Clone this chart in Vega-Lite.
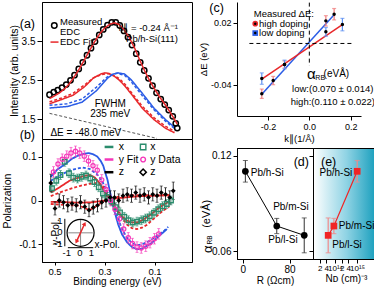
{
"$schema":"https://vega.github.io/schema/vega-lite/v6.json",
"padding":{"left":2,"top":1,"right":0,"bottom":0},
"spacing":195,
"bounds":"flush",
"align":"none",
"config":{
 "font":"Liberation Sans",
 "view":{"stroke":"black","strokeWidth":1},
 "axis":{"grid":false,"domainColor":"black","tickColor":"black","labelColor":"black","titleColor":"black","labelFont":"Liberation Sans","titleFont":"Liberation Sans","labelFontSize":10,"titleFontSize":10.5,"titleFontWeight":"normal","labelPadding":2,"titlePadding":2,"tickSize":4,"labelOverlap":false,"labelSeparation":-1000,"labelFlush":false,"labelBound":false},
 "text":{"font":"Liberation Sans","fontSize":10,"color":"black"},
 "point":{"opacity":1},
 "line":{"strokeWidth":1.5}
},
"datasets":{
 "edc":[{"E":0.52,"I":2.13},{"E":0.503,"I":2.2},{"E":0.487,"I":2.25},{"E":0.47,"I":2.31},{"E":0.453,"I":2.39},{"E":0.436,"I":2.5},{"E":0.42,"I":2.63},{"E":0.403,"I":2.79},{"E":0.387,"I":2.96},{"E":0.37,"I":3.14},{"E":0.354,"I":3.32},{"E":0.338,"I":3.49},{"E":0.321,"I":3.66},{"E":0.305,"I":3.8},{"E":0.288,"I":3.91},{"E":0.271,"I":3.98},{"E":0.255,"I":3.98},{"E":0.239,"I":3.9},{"E":0.222,"I":3.76},{"E":0.206,"I":3.6},{"E":0.19,"I":3.4},{"E":0.173,"I":3.18},{"E":0.157,"I":2.96},{"E":0.141,"I":2.75},{"E":0.124,"I":2.55},{"E":0.108,"I":2.36},{"E":0.092,"I":2.18},{"E":0.075,"I":2.02},{"E":0.059,"I":1.88},{"E":0.043,"I":1.74},{"E":0.027,"I":1.58},{"E":0.015,"I":1.4},{"E":0.009,"I":1.28}],
 "edcfit":[{"E":0.52,"I":2.03},{"E":0.5,"I":2.1},{"E":0.48,"I":2.18},{"E":0.46,"I":2.28},{"E":0.44,"I":2.42},{"E":0.42,"I":2.6},{"E":0.4,"I":2.8},{"E":0.38,"I":3.03},{"E":0.36,"I":3.26},{"E":0.34,"I":3.48},{"E":0.32,"I":3.68},{"E":0.3,"I":3.83},{"E":0.28,"I":3.93},{"E":0.26,"I":3.97},{"E":0.24,"I":3.92},{"E":0.22,"I":3.78},{"E":0.2,"I":3.58},{"E":0.18,"I":3.33},{"E":0.16,"I":3.03},{"E":0.14,"I":2.75},{"E":0.12,"I":2.5},{"E":0.1,"I":2.28},{"E":0.08,"I":2.08},{"E":0.06,"I":1.9},{"E":0.04,"I":1.71},{"E":0.02,"I":1.5},{"E":0.009,"I":1.38}],
 "comp":[
  {"E":0.52,"I":1.9,"c":"r","kind":"s"},{"E":0.506,"I":1.93,"c":"r","kind":"s"},{"E":0.471,"I":2.01,"c":"r","kind":"s"},{"E":0.425,"I":2.12,"c":"r","kind":"s"},{"E":0.379,"I":2.34,"c":"r","kind":"s"},{"E":0.344,"I":2.56,"c":"r","kind":"s"},{"E":0.315,"I":2.66,"c":"r","kind":"s"},{"E":0.298,"I":2.69,"c":"r","kind":"s"},{"E":0.28,"I":2.67,"c":"r","kind":"s"},{"E":0.26,"I":2.6,"c":"r","kind":"s"},{"E":0.24,"I":2.5,"c":"r","kind":"s"},{"E":0.217,"I":2.34,"c":"r","kind":"s"},{"E":0.194,"I":2.16,"c":"r","kind":"s"},{"E":0.148,"I":1.78,"c":"r","kind":"s"},{"E":0.101,"I":1.49,"c":"r","kind":"s"},{"E":0.055,"I":1.27,"c":"r","kind":"s"},{"E":0.02,"I":1.16,"c":"r","kind":"s"},
  {"E":0.52,"I":1.95,"c":"r","kind":"d"},{"E":0.47,"I":2.05,"c":"r","kind":"d"},{"E":0.425,"I":2.17,"c":"r","kind":"d"},{"E":0.38,"I":2.38,"c":"r","kind":"d"},{"E":0.345,"I":2.56,"c":"r","kind":"d"},{"E":0.31,"I":2.65,"c":"r","kind":"d"},{"E":0.285,"I":2.67,"c":"r","kind":"d"},{"E":0.26,"I":2.62,"c":"r","kind":"d"},{"E":0.24,"I":2.54,"c":"r","kind":"d"},{"E":0.217,"I":2.39,"c":"r","kind":"d"},{"E":0.194,"I":2.2,"c":"r","kind":"d"},{"E":0.148,"I":1.83,"c":"r","kind":"d"},{"E":0.101,"I":1.54,"c":"r","kind":"d"},{"E":0.055,"I":1.32,"c":"r","kind":"d"},{"E":0.02,"I":1.2,"c":"r","kind":"d"},
  {"E":0.52,"I":1.79,"c":"b","kind":"s"},{"E":0.506,"I":1.8,"c":"b","kind":"s"},{"E":0.448,"I":1.83,"c":"b","kind":"s"},{"E":0.39,"I":1.94,"c":"b","kind":"s"},{"E":0.333,"I":2.23,"c":"b","kind":"s"},{"E":0.287,"I":2.56,"c":"b","kind":"s"},{"E":0.265,"I":2.66,"c":"b","kind":"s"},{"E":0.246,"I":2.69,"c":"b","kind":"s"},{"E":0.22,"I":2.66,"c":"b","kind":"s"},{"E":0.194,"I":2.52,"c":"b","kind":"s"},{"E":0.148,"I":2.16,"c":"b","kind":"s"},{"E":0.101,"I":1.78,"c":"b","kind":"s"},{"E":0.055,"I":1.49,"c":"b","kind":"s"},{"E":0.02,"I":1.3,"c":"b","kind":"s"},
  {"E":0.52,"I":1.86,"c":"b","kind":"d"},{"E":0.45,"I":1.9,"c":"b","kind":"d"},{"E":0.39,"I":2.02,"c":"b","kind":"d"},{"E":0.333,"I":2.32,"c":"b","kind":"d"},{"E":0.29,"I":2.58,"c":"b","kind":"d"},{"E":0.265,"I":2.66,"c":"b","kind":"d"},{"E":0.25,"I":2.68,"c":"b","kind":"d"},{"E":0.22,"I":2.63,"c":"b","kind":"d"},{"E":0.194,"I":2.47,"c":"b","kind":"d"},{"E":0.148,"I":2.1,"c":"b","kind":"d"},{"E":0.101,"I":1.74,"c":"b","kind":"d"},{"E":0.055,"I":1.45,"c":"b","kind":"d"},{"E":0.02,"I":1.27,"c":"b","kind":"d"}
 ],
 "bg":[{"E":0.52,"I":1.655},{"E":0.09,"I":1.015}],
 "pfit":[
  {"E":0.515,"P":0.054,"c":"y","kind":"fit"},{"E":0.49,"P":0.07,"c":"y","kind":"fit"},{"E":0.457,"P":0.083,"c":"y","kind":"fit"},{"E":0.43,"P":0.095,"c":"y","kind":"fit"},{"E":0.41,"P":0.101,"c":"y","kind":"fit"},{"E":0.385,"P":0.106,"c":"y","kind":"fit"},{"E":0.364,"P":0.108,"c":"y","kind":"fit"},{"E":0.345,"P":0.105,"c":"y","kind":"fit"},{"E":0.329,"P":0.1,"c":"y","kind":"fit"},{"E":0.315,"P":0.09,"c":"y","kind":"fit"},{"E":0.305,"P":0.079,"c":"y","kind":"fit"},{"E":0.295,"P":0.06,"c":"y","kind":"fit"},{"E":0.288,"P":0.047,"c":"y","kind":"fit"},{"E":0.28,"P":0.025,"c":"y","kind":"fit"},{"E":0.27,"P":0.0,"c":"y","kind":"fit"},{"E":0.26,"P":-0.025,"c":"y","kind":"fit"},{"E":0.245,"P":-0.055,"c":"y","kind":"fit"},{"E":0.23,"P":-0.077,"c":"y","kind":"fit"},{"E":0.21,"P":-0.095,"c":"y","kind":"fit"},{"E":0.19,"P":-0.106,"c":"y","kind":"fit"},{"E":0.17,"P":-0.111,"c":"y","kind":"fit"},{"E":0.15,"P":-0.11,"c":"y","kind":"fit"},{"E":0.13,"P":-0.103,"c":"y","kind":"fit"},{"E":0.111,"P":-0.097,"c":"y","kind":"fit"},{"E":0.09,"P":-0.085,"c":"y","kind":"fit"},{"E":0.07,"P":-0.075,"c":"y","kind":"fit"},{"E":0.05,"P":-0.065,"c":"y","kind":"fit"},
  {"E":0.515,"P":0.045,"c":"y","kind":"alt"},{"E":0.47,"P":0.06,"c":"y","kind":"alt"},{"E":0.43,"P":0.07,"c":"y","kind":"alt"},{"E":0.39,"P":0.075,"c":"y","kind":"alt"},{"E":0.36,"P":0.072,"c":"y","kind":"alt"},{"E":0.33,"P":0.06,"c":"y","kind":"alt"},{"E":0.31,"P":0.045,"c":"y","kind":"alt"},{"E":0.29,"P":0.02,"c":"y","kind":"alt"},{"E":0.27,"P":-0.005,"c":"y","kind":"alt"},{"E":0.25,"P":-0.035,"c":"y","kind":"alt"},{"E":0.23,"P":-0.065,"c":"y","kind":"alt"},{"E":0.21,"P":-0.085,"c":"y","kind":"alt"},{"E":0.19,"P":-0.097,"c":"y","kind":"alt"},{"E":0.17,"P":-0.102,"c":"y","kind":"alt"},{"E":0.15,"P":-0.1,"c":"y","kind":"alt"},{"E":0.12,"P":-0.092,"c":"y","kind":"alt"},{"E":0.09,"P":-0.08,"c":"y","kind":"alt"},{"E":0.06,"P":-0.068,"c":"y","kind":"alt"},{"E":0.045,"P":-0.06,"c":"y","kind":"alt"},
  {"E":0.515,"P":0.018,"c":"x","kind":"fit"},{"E":0.48,"P":0.03,"c":"x","kind":"fit"},{"E":0.44,"P":0.045,"c":"x","kind":"fit"},{"E":0.41,"P":0.051,"c":"x","kind":"fit"},{"E":0.38,"P":0.056,"c":"x","kind":"fit"},{"E":0.36,"P":0.058,"c":"x","kind":"fit"},{"E":0.34,"P":0.053,"c":"x","kind":"fit"},{"E":0.32,"P":0.04,"c":"x","kind":"fit"},{"E":0.3,"P":0.02,"c":"x","kind":"fit"},{"E":0.28,"P":0.003,"c":"x","kind":"fit"},{"E":0.27,"P":-0.005,"c":"x","kind":"fit"},{"E":0.25,"P":-0.022,"c":"x","kind":"fit"},{"E":0.23,"P":-0.036,"c":"x","kind":"fit"},{"E":0.21,"P":-0.046,"c":"x","kind":"fit"},{"E":0.19,"P":-0.05,"c":"x","kind":"fit"},{"E":0.17,"P":-0.05,"c":"x","kind":"fit"},{"E":0.15,"P":-0.045,"c":"x","kind":"fit"},{"E":0.13,"P":-0.038,"c":"x","kind":"fit"},{"E":0.11,"P":-0.03,"c":"x","kind":"fit"},{"E":0.09,"P":-0.02,"c":"x","kind":"fit"},{"E":0.07,"P":-0.012,"c":"x","kind":"fit"},{"E":0.05,"P":-0.005,"c":"x","kind":"fit"},{"E":0.04,"P":-0.002,"c":"x","kind":"fit"},
  {"E":0.515,"P":0.01,"c":"x","kind":"alt"},{"E":0.48,"P":0.018,"c":"x","kind":"alt"},{"E":0.44,"P":0.026,"c":"x","kind":"alt"},{"E":0.4,"P":0.033,"c":"x","kind":"alt"},{"E":0.36,"P":0.038,"c":"x","kind":"alt"},{"E":0.33,"P":0.04,"c":"x","kind":"alt"},{"E":0.31,"P":0.035,"c":"x","kind":"alt"},{"E":0.29,"P":0.02,"c":"x","kind":"alt"},{"E":0.27,"P":0.0,"c":"x","kind":"alt"},{"E":0.25,"P":-0.02,"c":"x","kind":"alt"},{"E":0.23,"P":-0.04,"c":"x","kind":"alt"},{"E":0.21,"P":-0.055,"c":"x","kind":"alt"},{"E":0.19,"P":-0.063,"c":"x","kind":"alt"},{"E":0.17,"P":-0.065,"c":"x","kind":"alt"},{"E":0.15,"P":-0.062,"c":"x","kind":"alt"},{"E":0.13,"P":-0.055,"c":"x","kind":"alt"},{"E":0.11,"P":-0.045,"c":"x","kind":"alt"},{"E":0.09,"P":-0.035,"c":"x","kind":"alt"},{"E":0.07,"P":-0.025,"c":"x","kind":"alt"},{"E":0.05,"P":-0.017,"c":"x","kind":"alt"},{"E":0.04,"P":-0.013,"c":"x","kind":"alt"},
  {"E":0.515,"P":-0.003,"c":"z","kind":"fit"},{"E":0.45,"P":-0.004,"c":"z","kind":"fit"},{"E":0.4,"P":-0.005,"c":"z","kind":"fit"},{"E":0.35,"P":-0.004,"c":"z","kind":"fit"},{"E":0.3,"P":0.0,"c":"z","kind":"fit"},{"E":0.25,"P":0.005,"c":"z","kind":"fit"},{"E":0.2,"P":0.008,"c":"z","kind":"fit"},{"E":0.15,"P":0.01,"c":"z","kind":"fit"},{"E":0.1,"P":0.011,"c":"z","kind":"fit"},{"E":0.04,"P":0.012,"c":"z","kind":"fit"},
  {"E":0.515,"P":-0.008,"c":"z","kind":"alt"},{"E":0.4,"P":-0.012,"c":"z","kind":"alt"},{"E":0.36,"P":-0.022,"c":"z","kind":"alt"},{"E":0.33,"P":-0.012,"c":"z","kind":"alt"},{"E":0.3,"P":0.0,"c":"z","kind":"alt"},{"E":0.25,"P":0.008,"c":"z","kind":"alt"},{"E":0.2,"P":0.012,"c":"z","kind":"alt"},{"E":0.1,"P":0.012,"c":"z","kind":"alt"},{"E":0.04,"P":0.012,"c":"z","kind":"alt"}
 ],
 "pdata":[
  {"E":0.504,"P":0.065,"err":0.012,"c":"y"},{"E":0.486,"P":0.083,"err":0.012,"c":"y"},{"E":0.469,"P":0.094,"err":0.012,"c":"y"},{"E":0.451,"P":0.101,"err":0.012,"c":"y"},{"E":0.434,"P":0.108,"err":0.013,"c":"y"},{"E":0.416,"P":0.112,"err":0.012,"c":"y"},{"E":0.399,"P":0.108,"err":0.012,"c":"y"},{"E":0.381,"P":0.101,"err":0.012,"c":"y"},{"E":0.364,"P":0.09,"err":0.012,"c":"y"},{"E":0.346,"P":0.079,"err":0.012,"c":"y"},{"E":0.329,"P":0.069,"err":0.012,"c":"y"},{"E":0.311,"P":0.047,"err":0.012,"c":"y"},{"E":0.294,"P":0.025,"err":0.012,"c":"y"},{"E":0.276,"P":0.0,"err":0.012,"c":"y"},{"E":0.258,"P":-0.02,"err":0.012,"c":"y"},{"E":0.24,"P":-0.042,"err":0.012,"c":"y"},{"E":0.223,"P":-0.065,"err":0.012,"c":"y"},{"E":0.205,"P":-0.085,"err":0.012,"c":"y"},{"E":0.188,"P":-0.098,"err":0.012,"c":"y"},{"E":0.17,"P":-0.106,"err":0.012,"c":"y"},{"E":0.153,"P":-0.108,"err":0.012,"c":"y"},{"E":0.135,"P":-0.104,"err":0.012,"c":"y"},{"E":0.118,"P":-0.096,"err":0.012,"c":"y"},{"E":0.1,"P":-0.087,"err":0.012,"c":"y"},{"E":0.083,"P":-0.076,"err":0.012,"c":"y"},
  {"E":0.51,"P":0.028,"err":0.01,"c":"x"},{"E":0.493,"P":0.045,"err":0.01,"c":"x"},{"E":0.476,"P":0.058,"err":0.01,"c":"x"},{"E":0.459,"P":0.088,"err":0.01,"c":"x"},{"E":0.442,"P":0.062,"err":0.01,"c":"x"},{"E":0.425,"P":0.052,"err":0.01,"c":"x"},{"E":0.408,"P":0.05,"err":0.01,"c":"x"},{"E":0.391,"P":0.054,"err":0.01,"c":"x"},{"E":0.374,"P":0.057,"err":0.01,"c":"x"},{"E":0.357,"P":0.05,"err":0.01,"c":"x"},{"E":0.34,"P":0.042,"err":0.01,"c":"x"},{"E":0.323,"P":0.03,"err":0.01,"c":"x"},{"E":0.306,"P":0.016,"err":0.01,"c":"x"},{"E":0.289,"P":0.008,"err":0.01,"c":"x"},{"E":0.272,"P":-0.002,"err":0.01,"c":"x"},{"E":0.255,"P":-0.015,"err":0.01,"c":"x"},{"E":0.238,"P":-0.027,"err":0.01,"c":"x"},{"E":0.221,"P":-0.037,"err":0.01,"c":"x"},{"E":0.204,"P":-0.045,"err":0.01,"c":"x"},{"E":0.187,"P":-0.05,"err":0.01,"c":"x"},{"E":0.17,"P":-0.048,"err":0.01,"c":"x"},{"E":0.153,"P":-0.045,"err":0.01,"c":"x"},{"E":0.136,"P":-0.041,"err":0.01,"c":"x"},{"E":0.119,"P":-0.036,"err":0.01,"c":"x"},{"E":0.102,"P":-0.028,"err":0.01,"c":"x"},{"E":0.085,"P":-0.02,"err":0.01,"c":"x"},{"E":0.068,"P":-0.013,"err":0.01,"c":"x"},{"E":0.051,"P":-0.008,"err":0.01,"c":"x"},{"E":0.034,"P":0.0,"err":0.01,"c":"x"},
  {"E":0.515,"P":0.04,"err":0.02,"c":"z"},{"E":0.498,"P":-0.018,"err":0.015,"c":"z"},{"E":0.481,"P":0.0,"err":0.015,"c":"z"},{"E":0.464,"P":-0.004,"err":0.015,"c":"z"},{"E":0.447,"P":-0.011,"err":0.015,"c":"z"},{"E":0.43,"P":-0.007,"err":0.015,"c":"z"},{"E":0.413,"P":-0.011,"err":0.015,"c":"z"},{"E":0.396,"P":-0.004,"err":0.015,"c":"z"},{"E":0.379,"P":-0.014,"err":0.015,"c":"z"},{"E":0.362,"P":-0.022,"err":0.015,"c":"z"},{"E":0.345,"P":-0.016,"err":0.015,"c":"z"},{"E":0.328,"P":-0.011,"err":0.015,"c":"z"},{"E":0.311,"P":-0.004,"err":0.015,"c":"z"},{"E":0.294,"P":0.0,"err":0.015,"c":"z"},{"E":0.277,"P":0.007,"err":0.015,"c":"z"},{"E":0.26,"P":0.007,"err":0.015,"c":"z"},{"E":0.243,"P":0.0,"err":0.015,"c":"z"},{"E":0.226,"P":0.011,"err":0.015,"c":"z"},{"E":0.209,"P":0.014,"err":0.015,"c":"z"},{"E":0.192,"P":0.011,"err":0.015,"c":"z"},{"E":0.175,"P":0.018,"err":0.015,"c":"z"},{"E":0.158,"P":0.011,"err":0.015,"c":"z"},{"E":0.141,"P":0.014,"err":0.015,"c":"z"},{"E":0.124,"P":0.007,"err":0.015,"c":"z"},{"E":0.107,"P":0.014,"err":0.015,"c":"z"},{"E":0.09,"P":0.011,"err":0.015,"c":"z"},{"E":0.073,"P":0.018,"err":0.015,"c":"z"},{"E":0.056,"P":0.014,"err":0.015,"c":"z"},{"E":0.039,"P":0.007,"err":0.015,"c":"z"},{"E":0.025,"P":0.022,"err":0.02,"c":"z"}
 ],
 "cfit":[{"k":-0.23,"dE":-0.049,"doping":"high"},{"k":0.12,"dE":0.0277,"doping":"high"},{"k":-0.23,"dE":-0.0345,"doping":"low"},{"k":0.16,"dE":0.0182,"doping":"low"}],
 "cdata":[{"k":-0.23,"dE":-0.0485,"err":0.0045,"doping":"high"},{"k":-0.175,"dE":-0.0358,"err":0.004,"doping":"high"},{"k":-0.12,"dE":-0.0203,"err":0.0035,"doping":"high"},{"k":0.08,"dE":0.0218,"err":0.005,"doping":"high"},{"k":0.12,"dE":0.0282,"err":0.0055,"doping":"high"},{"k":-0.23,"dE":-0.0339,"err":0.0055,"doping":"low"},{"k":-0.12,"dE":-0.0203,"err":0.0042,"doping":"low"},{"k":0.08,"dE":0.0112,"err":0.0042,"doping":"low"},{"k":0.16,"dE":0.0182,"err":0.006,"doping":"low"}],
 "ddata":[{"R":4.3,"alpha":0.1103,"err":0.0068,"sample":"Pb/h-Si"},{"R":58,"alpha":0.0758,"err":0.0048,"sample":"Pb/m-Si"},{"R":105,"alpha":0.0699,"err":0.011,"sample":"Pb/l-Si"}],
 "edata":[{"N":4.9e13,"alpha":0.0699,"err":0.011,"sample":"Pb/l-Si"},{"N":8.9e13,"alpha":0.0758,"err":0.0048,"sample":"Pb/m-Si"},{"N":1.02e15,"alpha":0.1103,"err":0.0068,"sample":"Pb/h-Si"}]
},
"hconcat":[
 {"vconcat":[
  {"width":150,"height":137,
   "layer":[
    {"data":{"name":"comp"},"mark":{"type":"line","strokeWidth":1.5},
     "encoding":{
      "x":{"field":"E","type":"quantitative","scale":{"domain":[-0.005,0.52],"reverse":true},"axis":{"title":null,"labels":false,"ticks":false,"domain":false}},
      "y":{"field":"I","type":"quantitative","scale":{"domain":[1.05,4.1]},"axis":{"title":"Intensity (arb. units)","values":[1.5,2,2.5,3,3.5],"format":".1f","tickSize":5,"labelOverlap":false,"labelSeparation":-1000,"titlePadding":2}},
      "color":{"field":"c","type":"nominal","scale":{"domain":["r","b"],"range":["#e8282b","#2b5ce6"]},"legend":null},
      "strokeDash":{"field":"kind","type":"nominal","scale":{"domain":["s","d"],"range":[[1,0],[3,2]]},"legend":null}}},
    {"data":{"name":"bg"},"mark":{"type":"line","clip":true,"color":"#555555","strokeWidth":1,"strokeDash":[3,2]},
     "encoding":{"x":{"field":"E","type":"quantitative"},"y":{"field":"I","type":"quantitative"}}},
    {"data":{"name":"edc"},"mark":{"type":"point","shape":"circle","filled":false,"color":"black","strokeWidth":1.5,"size":28,"opacity":1},
     "encoding":{"x":{"field":"E","type":"quantitative"},"y":{"field":"I","type":"quantitative"}}},
    {"data":{"name":"edcfit"},"mark":{"type":"line","color":"#e8282b","strokeWidth":1.5},
     "encoding":{"x":{"field":"E","type":"quantitative"},"y":{"field":"I","type":"quantitative"}}},
    {"data":{"values":[{}]},"mark":{"type":"text","text":"(a)","align":"left","baseline":"middle","fontSize":12.5},"encoding":{"x":{"datum":0.639},"y":{"datum":3.944}}},
    {"data":{"values":[{}]},"mark":{"type":"point","shape":"circle","filled":false,"color":"black","strokeWidth":1.5,"size":30,"opacity":1},"encoding":{"x":{"datum":0.5008},"y":{"datum":3.9}}},
    {"data":{"values":[{}]},"mark":{"type":"text","text":"Measured","align":"left","baseline":"middle","fontSize":9.5},"encoding":{"x":{"datum":0.478},"y":{"datum":3.98}}},
    {"data":{"values":[{}]},"mark":{"type":"text","text":"EDC","align":"left","baseline":"middle","fontSize":9.5},"encoding":{"x":{"datum":0.478},"y":{"datum":3.74}}},
    {"data":{"values":[{}]},"mark":{"type":"rule","color":"#e8282b","strokeWidth":1.5},"encoding":{"x":{"datum":0.516},"x2":{"datum":0.484},"y":{"datum":3.476}}},
    {"data":{"values":[{}]},"mark":{"type":"text","text":"EDC Fit","align":"left","baseline":"middle","fontSize":9.5},"encoding":{"x":{"datum":0.478},"y":{"datum":3.476}}},
    {"data":{"values":[{}]},"mark":{"type":"text","text":"k∥ = -0.24 Å⁻¹","align":"right","baseline":"middle","fontSize":9.5},"encoding":{"x":{"datum":0.006},"y":{"datum":3.848}}},
    {"data":{"values":[{}]},"mark":{"type":"text","text":"Pb/h-Si(111)","align":"right","baseline":"middle","fontSize":9.5},"encoding":{"x":{"datum":0.006},"y":{"datum":3.565}}},
    {"data":{"values":[{}]},"mark":{"type":"text","text":"FWHM","align":"center","baseline":"middle"},"encoding":{"x":{"datum":0.277},"y":{"datum":1.895}}},
    {"data":{"values":[{}]},"mark":{"type":"text","text":"235 meV","align":"center","baseline":"middle"},"encoding":{"x":{"datum":0.277},"y":{"datum":1.635}}},
    {"data":{"values":[{}]},"mark":{"type":"text","text":"ΔE = -48.0 meV","align":"left","baseline":"middle"},"encoding":{"x":{"datum":0.5165},"y":{"datum":1.16}}},
    {"data":{"values":[{}]},"mark":{"type":"text","text":"(b)","align":"left","baseline":"middle","fontSize":12.5},"encoding":{"x":{"datum":0.639},"y":{"datum":1.093}}}
   ]},
  {"width":150,"height":123,
   "layer":[
    {"data":{"name":"pfit"},"mark":{"type":"line","strokeWidth":1.8},
     "encoding":{
      "x":{"field":"E","type":"quantitative","scale":{"domain":[-0.005,0.52],"reverse":true},"axis":{"title":"Binding energy (eV)","values":[0.1,0.2,0.3,0.4,0.5],"format":".1f","tickSize":3,"labelPadding":1,"titlePadding":1,"labelFontSize":9.5,"titleFontSize":10,"labelOverlap":false,"labelSeparation":-1000}},
      "y":{"field":"P","type":"quantitative","scale":{"domain":[-0.13,0.137]},"axis":{"title":"Polarization","values":[-0.1,0,0.1],"labelExpr":"abs(datum.value)<0.001 ? '0' : replace(format(datum.value,'.1f'),'−','-')","labelOverlap":false,"labelSeparation":-1000,"titlePadding":6}},
      "color":{"field":"c","type":"nominal","scale":{"domain":["x","y","z"],"range":["#2a8c6c","#f536b9","#000000"]},"legend":null},
      "strokeDash":{"field":"kind","type":"nominal","scale":{"domain":["fit","alt"],"range":[[1,0],[1.5,2]]},"legend":null}}},
    {"data":{"name":"pdata"},"transform":[{"filter":"datum.c == 'x'"}],"mark":{"type":"errorbar","color":"#2a8c6c","thickness":0.8,"ticks":{"size":3}},
     "encoding":{"x":{"field":"E","type":"quantitative"},"y":{"field":"P","type":"quantitative","title":"Polarization"},"yError":{"field":"err"}}},
    {"data":{"name":"pdata"},"transform":[{"filter":"datum.c == 'y'"}],"mark":{"type":"errorbar","color":"#f536b9","thickness":0.8,"ticks":{"size":3}},
     "encoding":{"x":{"field":"E","type":"quantitative"},"y":{"field":"P","type":"quantitative","title":"Polarization"},"yError":{"field":"err"}}},
    {"data":{"name":"pdata"},"transform":[{"filter":"datum.c == 'z'"}],"mark":{"type":"errorbar","color":"#000000","thickness":0.8,"ticks":{"size":3}},
     "encoding":{"x":{"field":"E","type":"quantitative"},"y":{"field":"P","type":"quantitative","title":"Polarization"},"yError":{"field":"err"}}},
    {"data":{"name":"pdata"},"transform":[{"filter":"datum.c == 'x'"}],"mark":{"type":"point","shape":"square","filled":false,"color":"#2a8c6c","strokeWidth":1.4,"size":20,"opacity":1},
     "encoding":{"x":{"field":"E","type":"quantitative"},"y":{"field":"P","type":"quantitative"}}},
    {"data":{"name":"pdata"},"transform":[{"filter":"datum.c == 'y'"}],"mark":{"type":"point","shape":"circle","filled":false,"color":"#f536b9","strokeWidth":1.2,"size":18,"opacity":1},
     "encoding":{"x":{"field":"E","type":"quantitative"},"y":{"field":"P","type":"quantitative"}}},
    {"data":{"name":"pdata"},"transform":[{"filter":"datum.c == 'z'"}],"mark":{"type":"point","shape":"diamond","filled":true,"color":"#000000","size":24,"opacity":1},
     "encoding":{"x":{"field":"E","type":"quantitative"},"y":{"field":"P","type":"quantitative"}}},
    {"data":{"values":[{}]},"mark":{"type":"rule","color":"#2a8c6c","strokeWidth":2.5},"encoding":{"x":{"datum":0.2995},"x2":{"datum":0.2645},"y":{"datum":0.1219}}},
    {"data":{"values":[{}]},"mark":{"type":"rule","color":"#f536b9","strokeWidth":2.5},"encoding":{"x":{"datum":0.2995},"x2":{"datum":0.2645},"y":{"datum":0.0933}}},
    {"data":{"values":[{}]},"mark":{"type":"rule","color":"#000000","strokeWidth":2.5},"encoding":{"x":{"datum":0.2995},"x2":{"datum":0.2645},"y":{"datum":0.0644}}},
    {"data":{"values":[{}]},"mark":{"type":"text","text":"x","align":"left","baseline":"middle","fontSize":10.5},"encoding":{"x":{"datum":0.2435},"y":{"datum":0.1219}}},
    {"data":{"values":[{}]},"mark":{"type":"text","text":"y Fit","align":"left","baseline":"middle","fontSize":10.5},"encoding":{"x":{"datum":0.2435},"y":{"datum":0.0933}}},
    {"data":{"values":[{}]},"mark":{"type":"text","text":"z","align":"left","baseline":"middle","fontSize":10.5},"encoding":{"x":{"datum":0.2435},"y":{"datum":0.0644}}},
    {"data":{"values":[{}]},"mark":{"type":"point","shape":"square","filled":false,"color":"#2a8c6c","strokeWidth":1.4,"size":30,"opacity":1},"encoding":{"x":{"datum":0.1455},"y":{"datum":0.1219}}},
    {"data":{"values":[{}]},"mark":{"type":"point","shape":"circle","filled":false,"color":"#f536b9","strokeWidth":1.4,"size":22,"opacity":1},"encoding":{"x":{"datum":0.1455},"y":{"datum":0.0933}}},
    {"data":{"values":[{}]},"mark":{"type":"point","shape":"diamond","filled":false,"color":"#000000","strokeWidth":1.5,"size":40,"opacity":1},"encoding":{"x":{"datum":0.1455},"y":{"datum":0.0644}}},
    {"data":{"values":[{}]},"mark":{"type":"text","text":"x","align":"left","baseline":"middle","fontSize":10.5},"encoding":{"x":{"datum":0.1175},"y":{"datum":0.1219}}},
    {"data":{"values":[{}]},"mark":{"type":"text","text":"y Data","align":"left","baseline":"middle","fontSize":10.5},"encoding":{"x":{"datum":0.1175},"y":{"datum":0.0933}}},
    {"data":{"values":[{}]},"mark":{"type":"text","text":"z","align":"left","baseline":"middle","fontSize":10.5},"encoding":{"x":{"datum":0.1175},"y":{"datum":0.0644}}},
    {"data":{"values":[{}]},"mark":{"type":"rule","color":"#888888","strokeWidth":1},"encoding":{"x":{"datum":0.4447},"x2":{"datum":0.3467},"y":{"datum":-0.0736}}},
    {"data":{"values":[{}]},"mark":{"type":"rule","color":"#888888","strokeWidth":1},"encoding":{"x":{"datum":0.3957},"y":{"datum":-0.0439},"y2":{"datum":-0.1031}}},
    {"data":{"values":[{}]},"mark":{"type":"point","shape":"circle","filled":false,"color":"black","strokeWidth":1.2,"size":729,"opacity":1},"encoding":{"x":{"datum":0.3957},"y":{"datum":-0.0736}}},
    {"data":{"values":[{}]},"mark":{"type":"rule","color":"black","strokeWidth":1},"encoding":{"x":{"datum":0.4587},"y":{"datum":-0.0417},"y2":{"datum":-0.1042}}},
    {"data":{"values":[{}]},"mark":{"type":"rule","color":"black","strokeWidth":1},"encoding":{"x":{"datum":0.4465},"x2":{"datum":0.345},"y":{"datum":-0.1074}}},
    {"data":{"values":[{}]},"mark":{"type":"rule","color":"#e8282b","strokeWidth":1.5},"encoding":{"x":{"datum":0.4122},"y":{"datum":-0.0937},"x2":{"datum":0.3793},"y2":{"datum":-0.0529}}},
    {"data":{"values":[{}]},"mark":{"type":"point","shape":"triangle-up","filled":true,"color":"#e8282b","size":22,"angle":26.5,"opacity":1},"encoding":{"x":{"datum":0.3793},"y":{"datum":-0.0529}}},
    {"data":{"values":[{}]},"mark":{"type":"point","shape":"triangle-down","filled":true,"color":"#e8282b","size":22,"angle":26.5,"opacity":1},"encoding":{"x":{"datum":0.4122},"y":{"datum":-0.0937}}},
    {"data":{"values":[{}]},"mark":{"type":"text","text":"1","align":"right","baseline":"middle","fontSize":9.5},"encoding":{"x":{"datum":0.4675},"y":{"datum":-0.0467}}},
    {"data":{"values":[{}]},"mark":{"type":"text","text":"0","align":"right","baseline":"middle","fontSize":9.5},"encoding":{"x":{"datum":0.4675},"y":{"datum":-0.0719}}},
    {"data":{"values":[{}]},"mark":{"type":"text","text":"-1","align":"right","baseline":"middle","fontSize":9.5},"encoding":{"x":{"datum":0.4675},"y":{"datum":-0.0984}}},
    {"data":{"values":[{}]},"mark":{"type":"text","text":"-1","align":"center","baseline":"middle","fontSize":9.5},"encoding":{"x":{"datum":0.451},"y":{"datum":-0.1199}}},
    {"data":{"values":[{}]},"mark":{"type":"text","text":"0","align":"center","baseline":"middle","fontSize":9.5},"encoding":{"x":{"datum":0.3985},"y":{"datum":-0.1199}}},
    {"data":{"values":[{}]},"mark":{"type":"text","text":"1","align":"center","baseline":"middle","fontSize":9.5},"encoding":{"x":{"datum":0.352},"y":{"datum":-0.1199}}},
    {"data":{"values":[{}]},"mark":{"type":"text","text":"y-Pol.","align":"center","baseline":"middle","fontSize":10,"angle":270},"encoding":{"x":{"datum":0.4955},"y":{"datum":-0.0717}}},
    {"data":{"values":[{}]},"mark":{"type":"text","text":"x-Pol.","align":"left","baseline":"middle","fontSize":10},"encoding":{"x":{"datum":0.3404},"y":{"datum":-0.1003}}}
   ]}
 ],"spacing":0,"bounds":"flush","align":"none"},
 {"vconcat":[
  {"width":124,"height":114,"view":{"stroke":null},
   "layer":[
    {"data":{"name":"cfit"},"mark":{"type":"line","strokeWidth":1.5},
     "encoding":{
      "x":{"field":"k","type":"quantitative","scale":{"domain":[-0.3077,0.2245]},"axis":{"title":"k∥(1/Å)","values":[-0.2,-0.1,0,0.1,0.2],"labelExpr":"replace(format(datum.value,'.1f'),'−','-')","labelFontSize":9,"titleFontSize":9.5,"titlePadding":2,"labelOverlap":false,"labelSeparation":-1000}},
      "y":{"field":"dE","type":"quantitative","scale":{"domain":[-0.0642,0.0394]},"axis":{"title":"ΔE (eV)","values":[-0.04,-0.02,0,0.02],"labelExpr":"replace(format(datum.value,'.2f'),'−','-')","labelFontSize":9,"titleFontSize":9.5,"labelOverlap":false,"labelSeparation":-1000}},
      "color":{"field":"doping","type":"nominal","scale":{"domain":["high","low"],"range":["#e8282b","#2b5ce6"]},"legend":null}}},
    {"data":{"values":[{}]},"mark":{"type":"rule","color":"black","strokeWidth":1,"strokeDash":[4,3]},"encoding":{"x":{"datum":-0.29},"x2":{"datum":0.217},"y":{"datum":0}}},
    {"data":{"values":[{}]},"mark":{"type":"rule","color":"black","strokeWidth":1,"strokeDash":[4,3]},"encoding":{"x":{"datum":0},"y":{"datum":0.0394},"y2":{"datum":-0.0215}}},
    {"data":{"name":"cdata"},"transform":[{"filter":"datum.doping == 'high'"}],"mark":{"type":"errorbar","color":"#f07a7a","thickness":1.2,"ticks":{"size":4}},
     "encoding":{"x":{"field":"k","type":"quantitative"},"y":{"field":"dE","type":"quantitative","title":"ΔE (eV)"},"yError":{"field":"err"}}},
    {"data":{"name":"cdata"},"transform":[{"filter":"datum.doping == 'low'"}],"mark":{"type":"errorbar","color":"#5f92f2","thickness":1.2,"ticks":{"size":4}},
     "encoding":{"x":{"field":"k","type":"quantitative"},"y":{"field":"dE","type":"quantitative","title":"ΔE (eV)"},"yError":{"field":"err"}}},
    {"data":{"name":"cdata"},"mark":{"type":"point","shape":"circle","filled":true,"color":"black","size":12,"opacity":1},
     "encoding":{"x":{"field":"k","type":"quantitative"},"y":{"field":"dE","type":"quantitative"}}},
    {"data":{"values":[{}]},"mark":{"type":"text","text":"(c)","align":"left","baseline":"middle","fontSize":12.5},"encoding":{"x":{"datum":-0.4837},"y":{"datum":0.034}}},
    {"data":{"values":[{}]},"mark":{"type":"text","text":"Measured ΔE:","align":"left","baseline":"middle","fontSize":9.5},"encoding":{"x":{"datum":-0.269},"y":{"datum":0.0282}}},
    {"data":{"values":[{}]},"mark":{"type":"point","shape":"circle","filled":true,"color":"#e8282b","size":32,"opacity":1},"encoding":{"x":{"datum":-0.2618},"y":{"datum":0.0191}}},
    {"data":{"values":[{}]},"mark":{"type":"point","shape":"circle","filled":true,"color":"black","size":6,"opacity":1},"encoding":{"x":{"datum":-0.2618},"y":{"datum":0.0191}}},
    {"data":{"values":[{}]},"mark":{"type":"text","text":"high doping","align":"left","baseline":"middle","fontSize":9.5},"encoding":{"x":{"datum":-0.2433},"y":{"datum":0.0191}}},
    {"data":{"values":[{}]},"mark":{"type":"point","shape":"square","filled":true,"color":"#2b5ce6","size":32,"opacity":1},"encoding":{"x":{"datum":-0.2618},"y":{"datum":0.01}}},
    {"data":{"values":[{}]},"mark":{"type":"point","shape":"circle","filled":true,"color":"black","size":6,"opacity":1},"encoding":{"x":{"datum":-0.2618},"y":{"datum":0.01}}},
    {"data":{"values":[{}]},"mark":{"type":"text","text":"low doping","align":"left","baseline":"middle","fontSize":9.5},"encoding":{"x":{"datum":-0.2433},"y":{"datum":0.01}}},
    {"data":{"values":[{}]},"mark":{"type":"text","text":"α","align":"left","baseline":"middle","fontSize":15},"encoding":{"x":{"datum":-0.0116},"y":{"datum":-0.0294}}},
    {"data":{"values":[{}]},"mark":{"type":"text","text":"RB","align":"left","baseline":"middle","fontSize":7},"encoding":{"x":{"datum":0.0292},"y":{"datum":-0.0329}}},
    {"data":{"values":[{}]},"mark":{"type":"text","text":"(eVÅ)","align":"left","baseline":"middle","fontSize":10},"encoding":{"x":{"datum":0.069},"y":{"datum":-0.0297}}},
    {"data":{"values":[{}]},"mark":{"type":"text","text":"low:(0.070 ± 0.014)","align":"left","baseline":"middle","fontSize":9.5},"encoding":{"x":{"datum":-0.0833},"y":{"datum":-0.044}}},
    {"data":{"values":[{}]},"mark":{"type":"text","text":"high:(0.110 ± 0.022)","align":"left","baseline":"middle","fontSize":9.5},"encoding":{"x":{"datum":-0.0901},"y":{"datum":-0.0561}}}
   ]},
  {"hconcat":[
   {"width":76,"height":111,
    "layer":[
     {"data":{"name":"ddata"},"mark":{"type":"line","color":"black","strokeWidth":1},
      "encoding":{
       "x":{"field":"R","type":"quantitative","scale":{"domain":[-9.4,116.7]},"axis":{"title":"R (Ωcm)","values":[0,40,80],"format":"d","labelPadding":1,"titlePadding":1,"titleFontSize":10,"labelOverlap":false,"labelSeparation":-1000}},
       "y":{"field":"alpha","type":"quantitative","scale":{"domain":[0.0564,0.1206]},"axis":{"title":null,"values":[0.06,0.08,0.1,0.12],"format":".2f","labelOverlap":false,"labelSeparation":-1000}}}},
     {"data":{"name":"ddata"},"mark":{"type":"errorbar","color":"#333333","thickness":1,"ticks":{"size":5}},
      "encoding":{"x":{"field":"R","type":"quantitative"},"y":{"field":"alpha","type":"quantitative","title":null},"yError":{"field":"err"}}},
     {"data":{"name":"ddata"},"mark":{"type":"point","shape":"circle","filled":true,"color":"black","size":45,"opacity":1},
      "encoding":{"x":{"field":"R","type":"quantitative"},"y":{"field":"alpha","type":"quantitative"}}},
     {"data":{"values":[{}]},"mark":{"type":"text","text":"(d)","align":"right","baseline":"middle","fontSize":12.5},"encoding":{"x":{"datum":113},"y":{"datum":0.116}}},
     {"data":{"values":[{}]},"mark":{"type":"text","text":"Pb/h-Si","align":"left","baseline":"middle"},"encoding":{"x":{"datum":13.7},"y":{"datum":0.1092}}},
     {"data":{"values":[{}]},"mark":{"type":"text","text":"Pb/m-Si","align":"left","baseline":"middle"},"encoding":{"x":{"datum":51.8},"y":{"datum":0.0881}}},
     {"data":{"values":[{}]},"mark":{"type":"text","text":"Pb/l-Si","align":"left","baseline":"middle"},"encoding":{"x":{"datum":43.5},"y":{"datum":0.0668}}},
     {"data":{"values":[{}]},"mark":{"type":"text","text":"α","align":"center","baseline":"middle","fontSize":13,"angle":270},"encoding":{"x":{"datum":-59.4},"y":{"datum":0.0612}}},
     {"data":{"values":[{}]},"mark":{"type":"text","text":"RB","align":"center","baseline":"middle","fontSize":6.5,"angle":270},"encoding":{"x":{"datum":-55.8},"y":{"datum":0.067}}},
     {"data":{"values":[{}]},"mark":{"type":"text","text":"(eVÅ)","align":"center","baseline":"middle","fontSize":11,"angle":270},"encoding":{"x":{"datum":-60.8},"y":{"datum":0.0835}}}
    ]},
   {"width":66,"height":111,
    "view":{"stroke":"black","fill":{"gradient":"linear","x1":0,"y1":0,"x2":1,"y2":0,"stops":[{"offset":0,"color":"#ffffff"},{"offset":0.5,"color":"#8fd3e4"},{"offset":1,"color":"#0a98b8"}]}},
    "layer":[
     {"data":{"name":"edata"},"mark":{"type":"line","color":"#f02424","strokeWidth":1.2},
      "encoding":{
       "x":{"field":"N","type":"quantitative","scale":{"type":"log","domain":[1.875e13,1.875e15]},"axis":{"title":"Nᴅ (cm)⁻³","values":[2e13,4e13,1e14,2e14,4e14,1e15],"labelExpr":"datum.value > 9e13 && datum.value < 1.1e14 ? '10¹⁴' : (datum.value > 9e14 ? '10¹⁵' : (datum.value < 3e13 || (datum.value > 1.5e14 && datum.value < 3e14) ? '2' : '4'))","labelPadding":1,"titlePadding":1,"titleFontSize":10,"labelFontSize":8,"labelOverlap":false,"labelSeparation":-1000}},
       "y":{"field":"alpha","type":"quantitative","scale":{"domain":[0.0564,0.1206]},"axis":{"title":null,"labels":false,"values":[0.06,0.07,0.08,0.09,0.1,0.11,0.12]}}}},
     {"data":{"name":"edata"},"mark":{"type":"errorbar","color":"#f08a8a","thickness":1.2,"ticks":{"size":5}},
      "encoding":{"x":{"field":"N","type":"quantitative"},"y":{"field":"alpha","type":"quantitative","title":null},"yError":{"field":"err"}}},
     {"data":{"name":"edata"},"mark":{"type":"point","shape":"square","filled":true,"color":"#f02424","size":45,"opacity":1},
      "encoding":{"x":{"field":"N","type":"quantitative"},"y":{"field":"alpha","type":"quantitative"}}},
     {"data":{"values":[{}]},"mark":{"type":"text","text":"(e)","align":"left","baseline":"middle","fontSize":12.5},"encoding":{"x":{"datum":2.31e13},"y":{"datum":0.116}}},
     {"data":{"values":[{}]},"mark":{"type":"text","text":"Pb/h-Si","align":"right","baseline":"middle"},"encoding":{"x":{"datum":6.14e14},"y":{"datum":0.1092}}},
     {"data":{"values":[{}]},"mark":{"type":"text","text":"Pb/m-Si","align":"left","baseline":"middle"},"encoding":{"x":{"datum":1.49e14},"y":{"datum":0.0757}}},
     {"data":{"values":[{}]},"mark":{"type":"text","text":"Pb/l-Si","align":"left","baseline":"middle"},"encoding":{"x":{"datum":7.57e13},"y":{"datum":0.0641}}}
    ]}
  ],"spacing":0,"bounds":"flush","align":"none"}
 ],"spacing":32,"bounds":"flush","align":"none"}
]
}
